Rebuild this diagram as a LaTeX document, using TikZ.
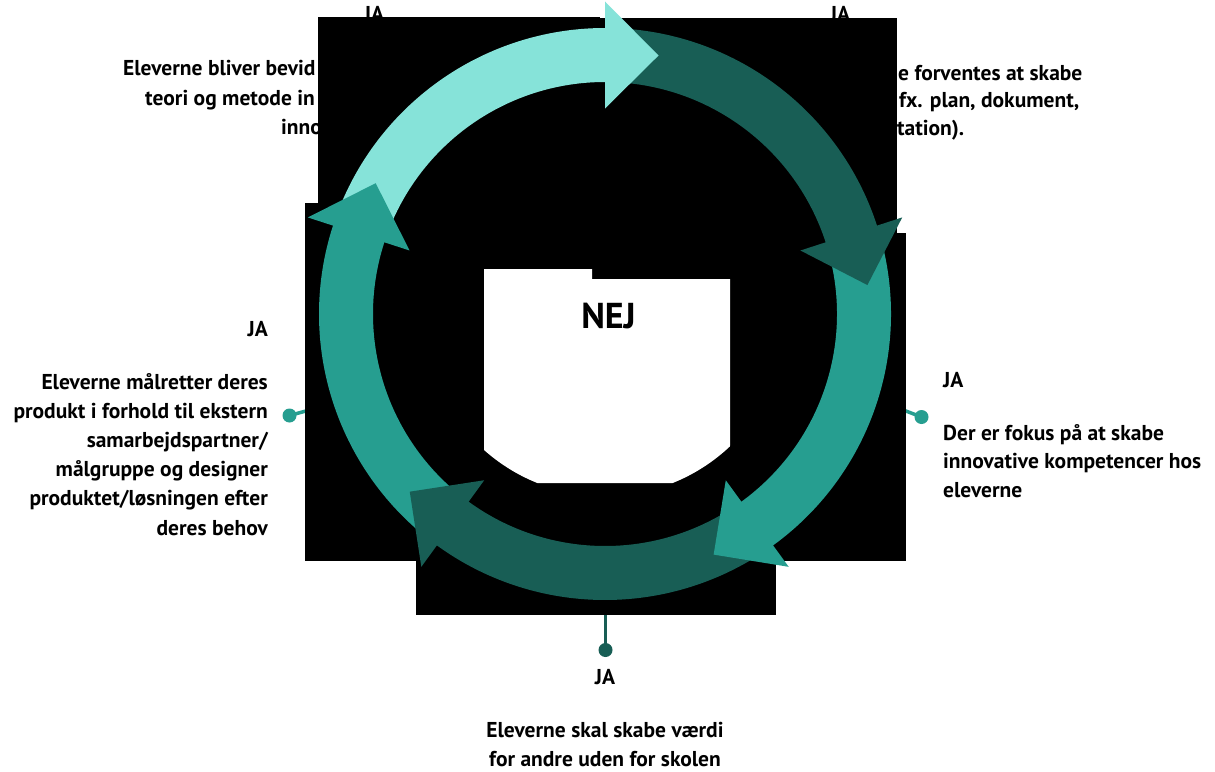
\documentclass[tikz,border=0pt]{standalone}
\usepackage{fontspec}
\setmainfont{PT Sans}
\definecolor{arLight}{RGB}{134,227,217}
\definecolor{arDark}{RGB}{24,94,85}
\definecolor{arTeal}{RGB}{38,158,144}
\tikzset{
  lbl/.style={inner sep=0pt, font=\bfseries\fontsize{21.5}{25}\selectfont, text=black},
  bigl/.style={inner sep=0pt, font=\bfseries\fontsize{36}{40}\selectfont, text=black},
  blk/.style={fill=black},
  dotst/.style={circle, inner sep=0pt, minimum size=14pt},
  conn/.style={line width=3.5pt},
}
\newcommand{\ringbody}[3]{%
  \fill[#1] (#2:286) arc[start angle=#2, end angle=#3, radius=286]
    -- (#3:232) arc[start angle=#3, end angle=#2, radius=232] -- cycle;}
\newcommand{\ringhead}[2]{%
  \fill[#1] (#2:205.5) -- (#2:312.5) -- ({#2+11.7}:264) -- cycle;}
\begin{document}
\begin{tikzpicture}[x=1pt,y=1pt,yscale=-1]
\useasboundingbox (0,0) rectangle (1215,771);
\fill[white] (0,0) rectangle (1215,771);

% connectors and dots
\node[dotst, fill=arTeal] (dL) at (289.5,415.5) {};
\coordinate (rL) at (335,403);
\draw[conn, arTeal] (dL.center) -- (rL);
\node[dotst, fill=arTeal] (dR) at (921.5,417) {};
\coordinate (rR) at (876,399.5);
\draw[conn, arTeal] (dR.center) -- (rR);
\node[dotst, fill=arDark] (dB) at (605.5,650) {};
\coordinate (rB) at (605.5,598);
\draw[conn, arDark] (dB.center) -- (rB);

% texts (visible parts)
\node[lbl, anchor=base] (jaTL) at (374,21) {JA};
\node[lbl, anchor=base] (jaTR) at (840,21) {JA};
\node[lbl, anchor=base west] (tl1) at (123,75.5) {Eleverne bliver bevid};
\node[lbl, anchor=base west] (tl2) at (145,105) {teori og metode in};
\node[lbl, anchor=base west] (tl3) at (281,134.5) {inno};
\node[lbl, anchor=base west] (tr1) at (898,80) {e forventes at skabe};
\node[lbl, anchor=base west] (tr2) at (899,107.5) {fx. plan, dokument,};
\node[lbl, anchor=base west] (tr3) at (897,135) {tation).};

\node[lbl, anchor=base east] (jaL) at (268,336) {JA};
\node[lbl, anchor=base east] (l1) at (268,389) {Eleverne målretter deres};
\node[lbl, anchor=base east] (l2) at (268,418.2) {produkt i forhold til ekstern};
\node[lbl, anchor=base east] (l3) at (268,447.4) {samarbejdspartner/};
\node[lbl, anchor=base east] (l4) at (268,476.6) {målgruppe og designer};
\node[lbl, anchor=base east] (l5) at (268,505.8) {produktet/løsningen efter};
\node[lbl, anchor=base east] (l6) at (268,535) {deres behov};

\node[lbl, anchor=base west] (jaR) at (943,387) {JA};
\node[lbl, anchor=base west] (r1) at (943,440) {Der er fokus på at skabe};
\node[lbl, anchor=base west] (r2) at (943,468.5) {innovative kompetencer hos};
\node[lbl, anchor=base west] (r3) at (943,497) {eleverne};

\node[lbl, anchor=base] (jaB) at (605,684) {JA};
\node[lbl, anchor=base] (b1) at (605,737) {Eleverne skal skabe værdi};
\node[lbl, anchor=base] (b2) at (605,766.5) {for andre uden for skolen};

% black backgrounds
\fill[blk] (318,17) rectangle (600,269);
\fill[blk] (592,18) rectangle (897,279);
\fill[blk] (730,233) rectangle (906,561);
\fill[blk] (416,483) rectangle (776,615);
\fill[blk] (305,203) rectangle (484,561);
\fill[blk] (484,269) rectangle (730,483);
\begin{scope}
  \clip (605,314) circle[radius=182];
  \fill[white] (484,269) -- (592,269) -- (592,279) -- (730,279) -- (730,483) -- (484,483) -- cycle;
\end{scope}
\node[bigl, anchor=base] (nej) at (608.5,328) {NEJ};

% cycle arrows
\begin{scope}[shift={(605,314)}]
  \ringbody{arLight}{-158}{-89}
  \ringbody{arDark}{-86}{-17}
  \ringbody{arTeal}{-14}{55}
  \ringbody{arDark}{58}{127}
  \ringbody{arTeal}{130}{199}
  \ringhead{arLight}{-90}
  \ringhead{arDark}{-18}
  \ringhead{arTeal}{54}
  \ringhead{arDark}{126}
  \ringhead{arTeal}{198}
\end{scope}
\end{tikzpicture}
\end{document}
